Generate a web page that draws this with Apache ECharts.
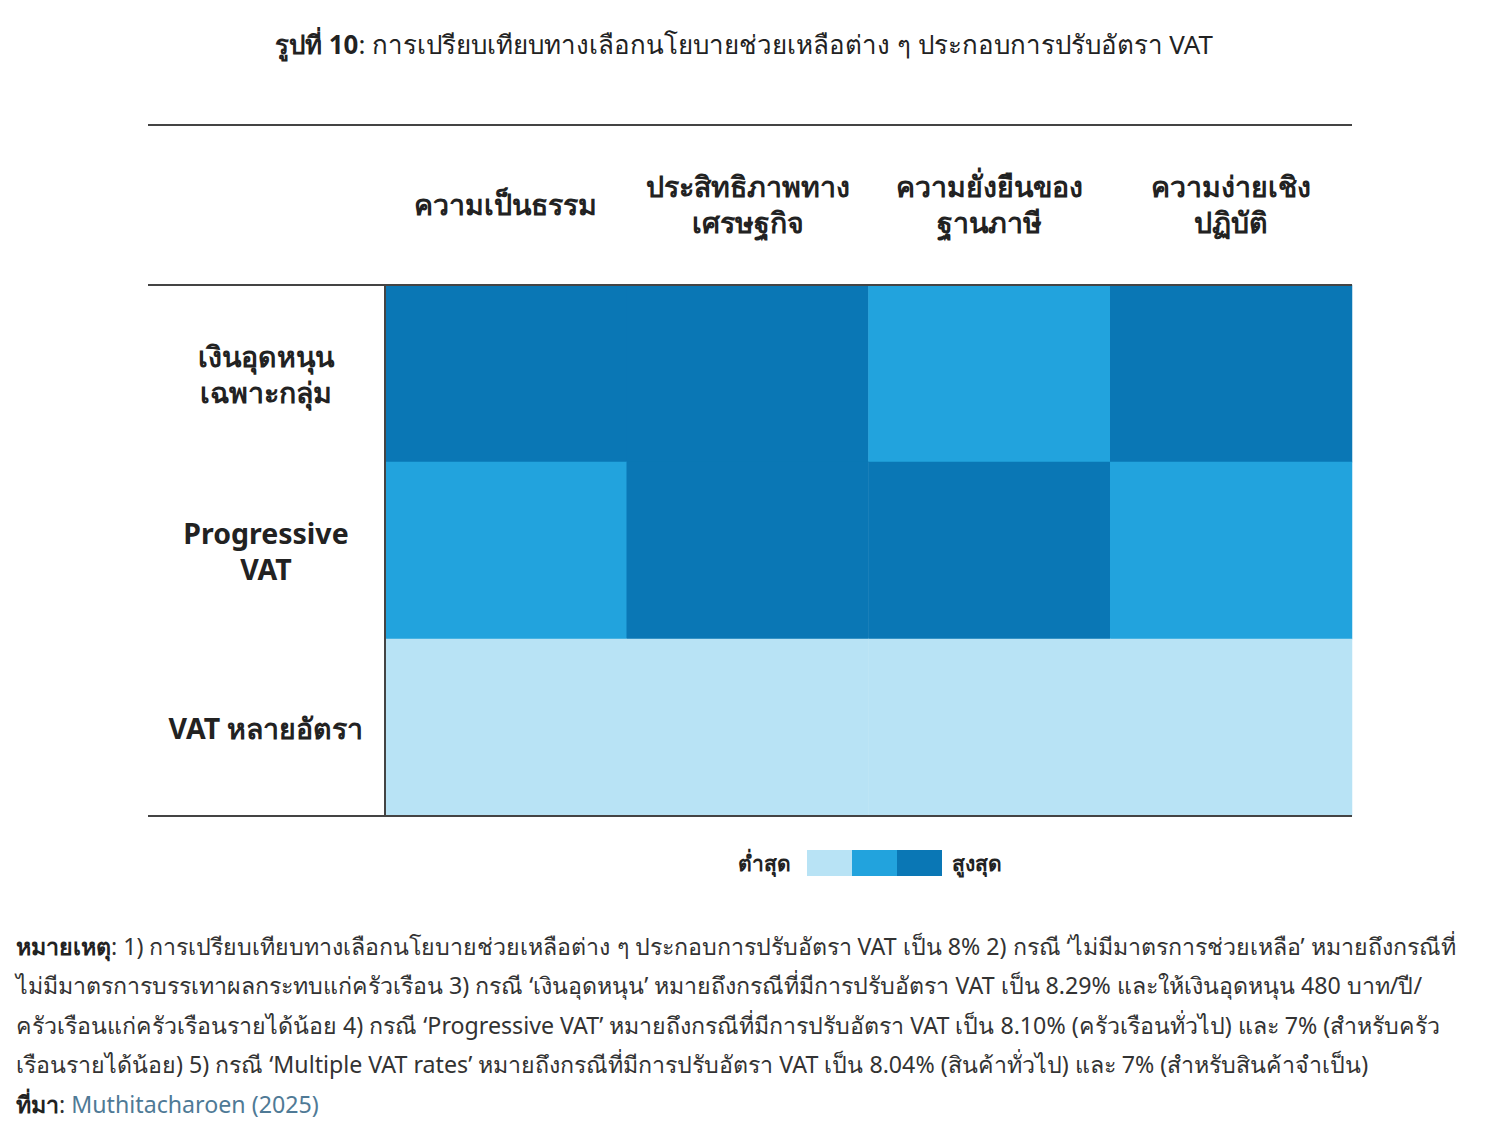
<!DOCTYPE html>
<html><head><meta charset="utf-8">
<script src="https://cdn.jsdelivr.net/npm/echarts@6/dist/echarts.min.js"></script>
<style>html,body{margin:0;padding:0;background:#fff}#c{width:1488px;height:1130px}</style>
</head><body><div id="c"></div>
<script>
const columns = ['ความเป็นธรรม', 'ประสิทธิภาพทาง\nเศรษฐกิจ', 'ความยั่งยืนของ\nฐานภาษี', 'ความง่ายเชิง\nปฏิบัติ'];
const rows = ['เงินอุดหนุน\nเฉพาะกลุ่ม', 'Progressive\nVAT', 'VAT หลายอัตรา'];
// score per row (1 = lowest, 3 = highest), one value per column
const subsidyScores = [3, 3, 2, 3];
const progressiveScores = [2, 3, 3, 2];
const multiRateScores = [1, 1, 1, 1];
const scoreColors = ['#b8e3f5', '#22a3dd', '#0a77b5'];
const legendLow = 'ต่ำสุด';
const legendHigh = 'สูงสุด';

const allScores = [subsidyScores, progressiveScores, multiRateScores];
const data = [];
allScores.forEach((r, yi) => r.forEach((v, xi) => data.push([xi, yi, v])));

const FONT = "'Noto Sans', sans-serif";
const chart = echarts.init(document.getElementById('c'), null, {renderer: 'svg'});
const gl = 385, gr = 1352, gt = 285, gb = 816;
const lineStyle = {stroke: '#444', lineWidth: 2};
const noteLines = [
  '{b|หมายเหตุ}: 1) การเปรียบเทียบทางเลือกนโยบายช่วยเหลือต่าง ๆ ประกอบการปรับอัตรา VAT เป็น 8% 2) กรณี ‘ไม่มีมาตรการช่วยเหลือ’ หมายถึงกรณีที่',
  'ไม่มีมาตรการบรรเทาผลกระทบแก่ครัวเรือน 3) กรณี ‘เงินอุดหนุน’ หมายถึงกรณีที่มีการปรับอัตรา VAT เป็น 8.29% และให้เงินอุดหนุน 480 บาท/ปี/',
  'ครัวเรือนแก่ครัวเรือนรายได้น้อย 4) กรณี ‘Progressive VAT’ หมายถึงกรณีที่มีการปรับอัตรา VAT เป็น 8.10% (ครัวเรือนทั่วไป) และ 7% (สำหรับครัว',
  'เรือนรายได้น้อย) 5) กรณี ‘Multiple VAT rates’ หมายถึงกรณีที่มีการปรับอัตรา VAT เป็น 8.04% (สินค้าทั่วไป) และ 7% (สำหรับสินค้าจำเป็น)',
  '{b|ที่มา}: {l|Muthitacharoen (2025)}'
];
const NF = 23.2;
const legendFont = {fontFamily: FONT, fontSize: 21, fontWeight: 'bold', fill: '#222'};
chart.setOption({
  animation: false,
  title: {
    text: '{b|รูปที่ 10}: การเปรียบเทียบทางเลือกนโยบายช่วยเหลือต่าง ๆ ประกอบการปรับอัตรา VAT',
    left: 'center', top: 26,
    textStyle: {fontFamily: FONT, fontSize: 25.9, fontWeight: 'normal', color: '#222',
      rich: {b: {fontFamily: FONT, fontSize: 25.9, fontWeight: 'bold', color: '#222'}}}
  },
  grid: {left: gl, right: 1488 - gr, top: gt, bottom: 1130 - gb},
  xAxis: {
    type: 'category', data: columns, position: 'top',
    axisLine: {show: false}, axisTick: {show: false}, splitLine: {show: false},
    axisLabel: {margin: 81, verticalAlign: 'middle', fontFamily: FONT, fontSize: 28.5, fontWeight: 'bold',
      color: '#222', lineHeight: 36, interval: 0}
  },
  yAxis: {
    type: 'category', data: rows, inverse: true,
    axisLine: {show: false}, axisTick: {show: false}, splitLine: {show: false},
    axisLabel: {margin: 119, align: 'center', fontFamily: FONT, fontSize: 28.5, fontWeight: 'bold',
      color: '#222', lineHeight: 36, interval: 0}
  },
  visualMap: {
    type: 'piecewise', orient: 'horizontal', left: 807, top: 850, padding: 0,
    pieces: [{value: 1, color: scoreColors[0]}, {value: 2, color: scoreColors[1]}, {value: 3, color: scoreColors[2]}],
    itemWidth: 45, itemHeight: 26, itemGap: 0, itemSymbol: 'rect',
    showLabel: false, selectedMode: false
  },
  series: [{
    type: 'heatmap', data: data,
    itemStyle: {borderWidth: 0},
    label: {show: false}, emphasis: {disabled: true}
  }],
  graphic: [
    {type: 'line', shape: {x1: 148, y1: 125, x2: gr, y2: 125}, style: lineStyle, z: 100},
    {type: 'line', shape: {x1: 148, y1: gt, x2: gr, y2: gt}, style: lineStyle, z: 100},
    {type: 'line', shape: {x1: 148, y1: gb, x2: gr, y2: gb}, style: lineStyle, z: 100},
    {type: 'line', shape: {x1: gl, y1: gt, x2: gl, y2: gb}, style: lineStyle, z: 100},
    {type: 'text', x: 791, y: 863, z: 100,
      style: Object.assign({text: legendLow, align: 'right', verticalAlign: 'middle'}, legendFont)},
    {type: 'text', x: 952, y: 863, z: 100,
      style: Object.assign({text: legendHigh, align: 'left', verticalAlign: 'middle'}, legendFont)},
    {type: 'text', left: 16, top: 926, z: 100,
      style: {text: noteLines.join('\n'), fontFamily: FONT, fontSize: NF, lineHeight: 39.5, fill: '#333',
        rich: {b: {fontFamily: FONT, fontSize: NF, fontWeight: 'bold', fill: '#222', lineHeight: 39.5},
               l: {fontFamily: FONT, fontSize: NF, fill: '#4f7a96', lineHeight: 39.5}}}}
  ]
});
</script></body></html>
